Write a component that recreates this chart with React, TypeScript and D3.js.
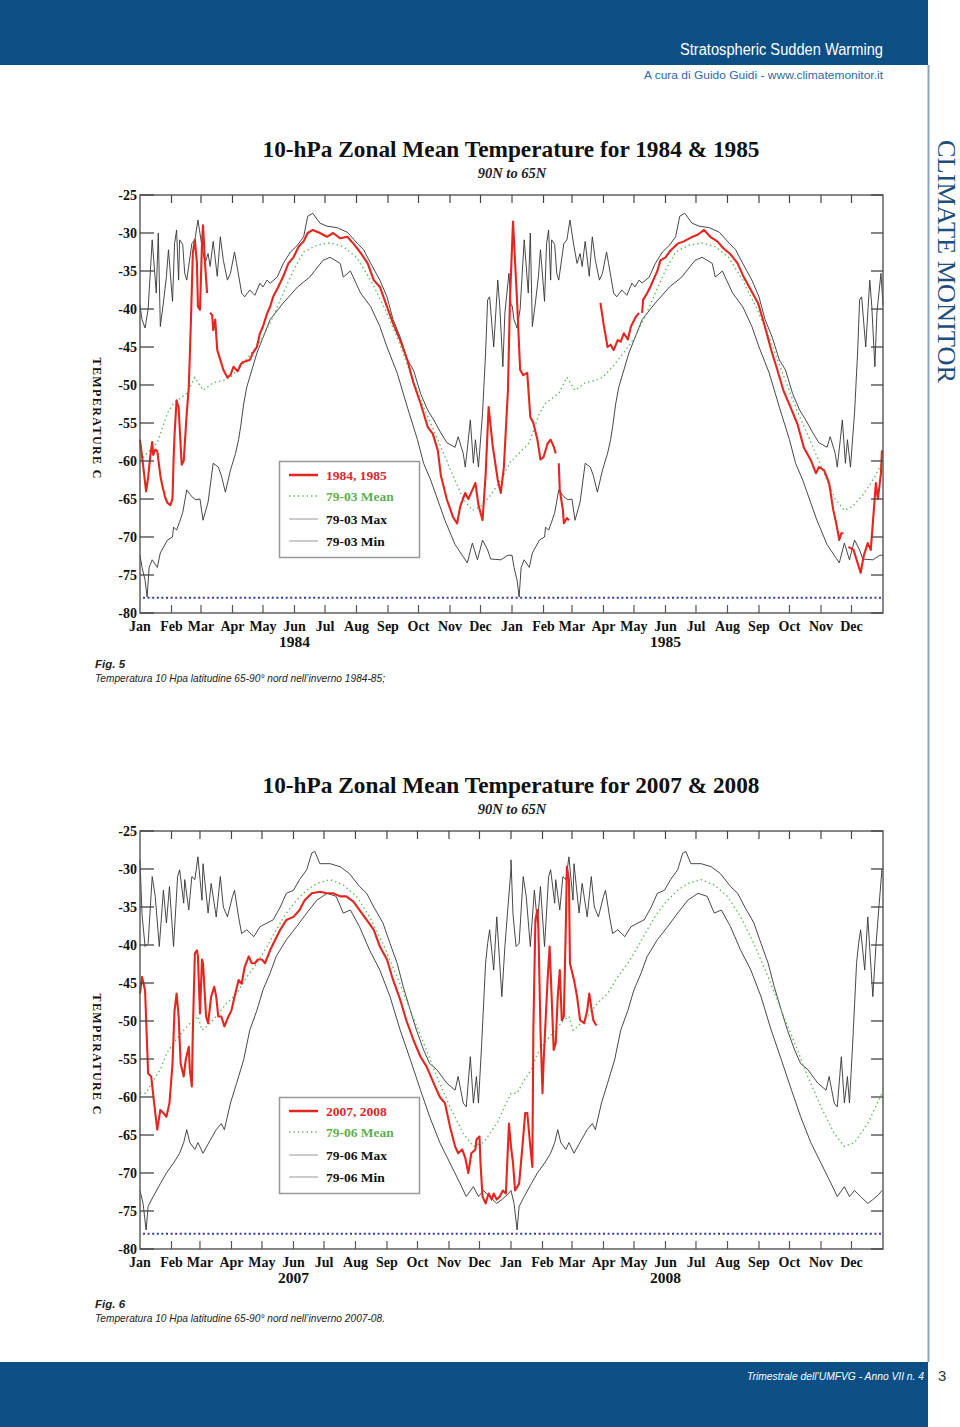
import React from 'react';
import * as d3 from 'd3';

type Pt = [number, number | null];

// ---------------- page texts ----------------
const HEADER_TITLE = 'Stratospheric Sudden Warming';
const HEADER_SUB = 'A cura di Guido Guidi - www.climatemonitor.it';
const SIDE_TEXT = 'CLIMATE MONITOR';
const FOOTER_TEXT = 'Trimestrale dell’UMFVG - Anno VII n. 4';
const PAGE_NUMBER = '3';

// ---------------- axes ----------------
const Y_TICKS = [-25, -30, -35, -40, -45, -50, -55, -60, -65, -70, -75, -80];
const Y_AXIS_TITLE = 'TEMPERATURE C';
const PSC_LEVEL = -78;
const SUBTITLE = '90N to 65N';

// ---------------- chart 1 (1984-85) ----------------
const CH1_TITLE = '10-hPa Zonal Mean Temperature for 1984 & 1985';
const CH1_YEARS = [1984, 1985];
const CH1_LEGEND = ['1984, 1985', '79-03 Mean', '79-03 Max', '79-03 Min'];
const CH1_CAPTION = ['Fig. 5', 'Temperatura 10 Hpa latitudine 65-90° nord nell’inverno 1984-85;'];

// climatology: [day of year, °C]
const CH1_MAX: Pt[] = [[0,-39.5],[2,-41.4],[5,-42.5],[8,-40],[12,-30.9],[16,-37.9],[18,-30],[20,-42.3],[23,-39.2],[26,-35.7],[28,-32.2],[32,-39],[34,-31.4],[36,-29.6],[38,-36.2],[39,-30.9],[42,-31.5],[44,-35.3],[46,-36.2],[51,-31.4],[54,-30.9],[57,-28.3],[61,-31.8],[64,-34],[67,-32.7],[69,-34.4],[72,-31.1],[76,-35.7],[79,-30.5],[82,-33.6],[86,-36.2],[89,-35.3],[93,-32.5],[95,-34],[100,-37.9],[103,-38.4],[108,-37.5],[113,-38.2],[118,-36.6],[121,-37.1],[125,-36.2],[128,-36.6],[135,-35.8],[141,-34],[148,-32.5],[155,-31.6],[161,-30.5],[165,-27.8],[170,-27.4],[177,-28.7],[184,-29.1],[194,-29.3],[204,-29.9],[214,-31.4],[220,-32.2],[227,-34],[236,-36.2],[243,-38.4],[249,-41.4],[256,-43.7],[263,-46.7],[269,-48],[276,-51.1],[283,-53.3],[289,-54.6],[296,-56.3],[302,-57.6],[310,-58.2],[313,-56.8],[318,-59],[320,-60.8],[323,-57.2],[325,-54.6],[328,-60.3],[330,-57.2],[333,-60.8],[337,-53.7],[340,-45.8],[342,-38.8],[344,-38.4],[348,-45],[352,-36.2],[354,-39.7],[357,-47.6],[359,-40.5],[363,-35.3],[365,-39.5]];
const CH1_MIN: Pt[] = [[0,-72.4],[2,-74],[5,-75.7],[7,-77.9],[9,-74],[12,-73],[17,-74],[20,-72.1],[27,-70.4],[32,-70],[33,-68.7],[36,-69.1],[39,-68],[42,-66.8],[46,-63.8],[51,-64.7],[55,-65.1],[59,-65],[62,-67.8],[67,-65.4],[72,-60.3],[77,-60.8],[80,-61.9],[84,-64.1],[89,-61.2],[94,-59],[97,-57.2],[99,-55.5],[102,-52.5],[105,-50.3],[115,-45.8],[128,-41.4],[141,-39.2],[155,-37.1],[167,-35.8],[180,-33.6],[187,-33.2],[197,-34],[200,-35.8],[207,-35],[217,-37.9],[227,-39.7],[236,-42.3],[243,-45],[253,-48.4],[263,-52.9],[273,-57.2],[279,-60.3],[286,-62.5],[300,-67.8],[310,-71],[318,-72.6],[322,-73.4],[327,-70.8],[332,-73],[337,-70.4],[342,-71.7],[345,-72.9],[355,-73],[362,-72.4],[365,-72.4]];
const CH1_MEAN: Pt[] = [[0,-60],[3,-59.5],[17,-57.6],[27,-53.7],[33,-52.4],[46,-51.1],[54,-49],[62,-50.7],[72,-49.7],[82,-49.4],[89,-49],[99,-47.6],[112,-45.4],[121,-43.7],[131,-41],[141,-37.9],[151,-34.9],[161,-32.5],[174,-31.6],[187,-31.3],[200,-31.8],[213,-33.2],[227,-36.2],[240,-39.7],[253,-43.7],[266,-48.4],[279,-52.9],[293,-57.2],[305,-61],[318,-65],[327,-66.5],[335,-66],[345,-64.5],[355,-62.5],[365,-60]];
// observed: [days since 1 Jan 1984, °C]; null = missing
const CH1_RED: Pt[] = [[0,-57.2],[3,-60.5],[6,-64],[8,-62.2],[10,-59.5],[12,-57.5],[13,-59.2],[15,-58.5],[17,-58.7],[20,-61.9],[22,-63.3],[25,-64.9],[27,-65.5],[30,-65.8],[32,-64.9],[33,-60],[34,-56.5],[36,-52],[38,-53],[41,-60.5],[43,-60],[46,-53.7],[48,-50.3],[50,-42],[52,-32.6],[54,-30.9],[56,-34],[57,-39.7],[59,-40.1],[61,-31.3],[62,-29],[64,-34],[66,-37.9],[67,null],[69,-40.5],[71,-40.8],[72,-42.8],[74,-41.4],[76,-45.4],[79,-46.7],[82,-48],[86,-49],[89,-48.7],[92,-47.6],[96,-48.2],[99,-47.3],[101,-47],[108,-46.7],[111,-45.8],[115,-45],[118,-43.2],[121,-42.3],[125,-40.6],[128,-39.7],[131,-38.4],[136,-37.1],[141,-35.7],[146,-34],[151,-33.2],[156,-31.8],[161,-31.1],[165,-30],[170,-29.6],[177,-30],[184,-30.5],[190,-30],[197,-30.7],[204,-30.5],[210,-31.4],[217,-32.6],[224,-34],[230,-36.2],[236,-37.1],[243,-39.7],[249,-41.9],[256,-44.1],[263,-46.7],[269,-49.7],[276,-52.4],[283,-55.5],[288,-56.4],[293,-58.6],[296,-61.9],[302,-65.1],[308,-67.4],[312,-68.2],[315,-66],[320,-64.2],[323,-65],[327,-63.8],[330,-62.9],[333,-65.8],[337,-67.8],[340,-61.9],[343,-52.9],[347,-58],[352,-62.5],[355,-64.2],[358,-60.8],[362,-50.7],[364,-38.8],[367,-28.5],[371,-39],[374,-48],[377,-48.7],[381,-48.4],[384,-54.2],[387,-55],[391,-57.2],[394,-59.8],[397,-59.5],[401,-57.7],[404,-57.2],[407,-58.1],[409,-59],[410,null],[412,-60.3],[413,-63.8],[416,-66.4],[417,-68.2],[420,-67.5],[422,-67.8],[423,null],[453,-39.2],[456,-41.9],[460,-45],[463,-44.7],[466,-45.4],[470,-44.1],[473,-44.3],[476,-43.2],[480,-44],[483,-42.3],[488,-41],[491,-40.5],[492,null],[494,-40.5],[495,-38.8],[499,-37.9],[502,-37.1],[505,-36.2],[509,-35],[512,-33.6],[517,-33.2],[522,-32.3],[529,-31.4],[535,-31.1],[542,-30.6],[549,-30.2],[555,-29.6],[561,-30.5],[568,-31.1],[574,-32],[581,-32.8],[588,-34],[594,-35.8],[601,-37.5],[608,-39.2],[614,-41.9],[621,-45.4],[627,-48],[633,-50.7],[640,-52.9],[647,-55.2],[653,-58.2],[660,-59.9],[665,-61.6],[668,-60.8],[673,-61.2],[678,-62.9],[682,-66.4],[685,-68.2],[688,-70.4],[690,-69.5],[692,-69.5],[694,null],[697,-71.3],[702,-71.7],[706,-73.4],[709,-74.7],[712,-72.5],[716,-70.8],[719,-71.7],[722,-66.4],[724,-62.9],[726,-65],[729,-61.6],[730,-58.6]];

// ---------------- chart 2 (2007-08) ----------------
const CH2_TITLE = '10-hPa Zonal Mean Temperature for 2007 & 2008';
const CH2_YEARS = [2007, 2008];
const CH2_LEGEND = ['2007, 2008', '79-06 Mean', '79-06 Max', '79-06 Min'];
const CH2_CAPTION = ['Fig. 6', 'Temperatura 10 Hpa latitudine 65-90° nord nell’inverno 2007-08.'];

const CH2_MAX: Pt[] = [[0,-28.8],[2,-36],[5,-40.2],[8,-39.8],[12,-31],[15,-33.6],[19,-40.2],[23,-32.8],[26,-37.1],[29,-32.3],[33,-40.2],[37,-31],[39,-30.1],[43,-34.5],[44,-31.4],[48,-35.4],[51,-31],[54,-31.4],[57,-28.4],[61,-34.1],[62,-29.3],[67,-35.8],[70,-31.9],[75,-36.3],[79,-31],[82,-35],[86,-36.3],[91,-33.6],[93,-32.8],[97,-36.3],[100,-38.5],[105,-38],[112,-38.9],[118,-37.6],[125,-37.1],[131,-36.7],[138,-35],[144,-33.2],[151,-32.8],[157,-31.4],[164,-30.1],[169,-27.9],[172,-27.7],[177,-29.3],[187,-29.3],[197,-29.7],[206,-30.6],[216,-32.3],[223,-33.2],[230,-35],[239,-37.1],[246,-39.8],[253,-42.4],[259,-45.5],[266,-48.6],[272,-51.2],[279,-53.8],[285,-55.6],[292,-56.4],[302,-58.2],[310,-59.1],[313,-57.3],[318,-60.8],[321,-61.3],[325,-54.7],[328,-60.8],[331,-57.3],[333,-60.8],[336,-53.4],[340,-42.4],[342,-39.8],[344,-38],[348,-43.3],[351,-36.3],[356,-46.8],[359,-40.2],[362,-35],[365,-30]];
const CH2_MIN: Pt[] = [[0,-72.3],[3,-74],[6,-77.5],[8,-74.4],[13,-73.1],[20,-71.4],[26,-70],[33,-68.7],[39,-67.4],[43,-66],[46,-64.3],[49,-66],[54,-66.9],[57,-66],[62,-67.4],[69,-65.7],[75,-64.3],[80,-63.5],[83,-64.3],[89,-60.8],[95,-58.2],[102,-55.1],[108,-51.2],[115,-48.6],[121,-45.9],[128,-43.7],[134,-41.5],[144,-39.3],[154,-37.6],[164,-35.8],[174,-34.1],[184,-33.2],[193,-33.6],[200,-35.8],[207,-35.4],[216,-37.6],[226,-40.7],[236,-43.3],[246,-46.8],[256,-51.2],[266,-55.1],[276,-59.1],[285,-62.6],[295,-66],[305,-68.7],[315,-71.4],[321,-73.1],[328,-71.8],[333,-73.1],[338,-72.3],[344,-73.1],[351,-74],[356,-73.5],[362,-72.8],[365,-72.3]];
const CH2_MEAN: Pt[] = [[0,-59.5],[6,-59.5],[13,-57.8],[20,-56.4],[26,-54.3],[33,-52.9],[43,-51.2],[52,-49.9],[57,-49.4],[61,-51.2],[66,-50.7],[75,-49.4],[85,-47.7],[95,-46.4],[105,-44.2],[115,-42.4],[125,-40.2],[134,-38],[144,-35.8],[154,-34.1],[164,-32.8],[174,-31.9],[187,-31.4],[200,-32.1],[213,-33.6],[226,-36.3],[239,-39.8],[253,-44.2],[266,-48.6],[279,-52.9],[292,-57.3],[305,-61.3],[318,-64.8],[328,-66.5],[338,-66],[351,-63.5],[365,-59.5]];
// observed: [days since 1 Jan 2007, °C]
const CH2_RED: Pt[] = [[0,-46.4],[2,-44.2],[5,-46],[8,-56.9],[11,-57.3],[15,-62.1],[17,-64.3],[20,-61.7],[23,-62.1],[26,-62.6],[29,-60.8],[32,-55.6],[34,-48.6],[36,-46.4],[38,-49.4],[40,-55.6],[43,-57.3],[45,-55.1],[48,-53.4],[49,-56.4],[51,-58.6],[52,-51.2],[54,-41.1],[56,-40.7],[57,-41.5],[59,-49],[61,-41.9],[62,-42.4],[65,-49.4],[67,-50.3],[70,-46.8],[73,-45.5],[75,-46.8],[77,-49.4],[80,-49.4],[83,-50.7],[87,-49.4],[90,-48.6],[93,-46.8],[97,-44.6],[100,-45.1],[103,-42.9],[107,-41.5],[110,-42.4],[113,-42.4],[116,-41.9],[120,-41.9],[123,-42.4],[128,-40.7],[133,-39.3],[138,-38],[144,-36.7],[151,-36.3],[157,-35.4],[162,-34.1],[169,-33.2],[177,-33],[184,-33.2],[190,-33.2],[197,-33.6],[203,-33.6],[210,-34.3],[216,-35.4],[223,-36.7],[230,-38],[236,-40.2],[243,-41.9],[249,-44.6],[256,-47.2],[262,-49.9],[269,-52.5],[276,-54.7],[282,-56],[289,-58.2],[295,-60],[300,-60.8],[305,-63.9],[310,-66.5],[313,-67.4],[317,-66.9],[320,-68],[323,-70],[326,-67.4],[330,-66.9],[331,-65.6],[334,-65.2],[335,-68.7],[337,-73.1],[340,-74],[343,-72.7],[346,-73.5],[348,-72.7],[351,-73.5],[354,-73.1],[357,-72.3],[360,-72.7],[363,-63.5],[365,-66.5],[367,-68.7],[369,-72.3],[373,-71.4],[376,-66.9],[379,-62.1],[381,-62.1],[384,-66.5],[386,-69.2],[387,-51.2],[389,-36.7],[391,-35.4],[392,-38],[394,-51.2],[396,-59.5],[397,-55.6],[401,-44.6],[403,-40.2],[405,-46.8],[407,-53.8],[409,-52.9],[411,-46.8],[413,-43.3],[415,-49.9],[417,-49.4],[419,-37.1],[420,-29.7],[422,-31.4],[423,-42.4],[427,-44.6],[430,-46.8],[433,-49.9],[437,-50.3],[440,-48.6],[442,-46.4],[444,-48.2],[446,-49.9],[449,-50.6]];

// ---------------- styles ----------------
const BLUE = '#0c4f84';
const SERIF = "'Liberation Serif', 'Times New Roman', 'DejaVu Serif', serif";
const NARROW = "'Liberation Sans Narrow', 'Liberation Sans', Arial, sans-serif";
const RED = '#e3261f';
const GREEN = '#5cb85c';
const DAY = 86400000;

interface ChartProps {
  top: number;
  years: number[];
  title: string;
  red: Pt[];
  max: Pt[];
  min: Pt[];
  mean: Pt[];
  legend: string[];
  caption: string[];
  captionY: number;
}

function Chart({ top, years, title, red, max, min, mean, legend, caption, captionY }: ChartProps) {
  const left = 140;
  const right = 883;
  const bottom = top + 418;
  const t0 = new Date(years[0], 0, 1);
  const t1 = new Date(years[0] + 2, 0, 1);
  const x = d3.scaleTime().domain([t0, t1]).range([left, right]);
  const y = d3.scaleLinear().domain([-80, -25]).range([bottom, top]);
  const xd = (yr: number, d: number) => x(new Date(new Date(yr, 0, 1).getTime() + d * DAY));
  const line = d3
    .line<[number, number | null]>()
    .defined((p) => p[1] != null)
    .x((p) => p[0])
    .y((p) => y(p[1] as number));
  const clim = (arr: Pt[]) =>
    line(years.flatMap((yr) => arr.map(([d, t]) => [xd(yr, d), t] as [number, number | null]))) || '';
  const redPath = line(red.map(([d, t]) => [xd(years[0], d), t] as [number, number | null])) || '';
  const months = d3.timeMonth.range(t0, t1);
  const fmt = d3.timeFormat('%b');
  const ly = top + 266;
  const legY = [top + 280, top + 301, top + 324, top + 346];

  return (
    <g>
      <text x={511} y={top - 38} textAnchor="middle" fontFamily={SERIF} fontWeight="bold" fontSize={23}
        textLength={497} lengthAdjust="spacingAndGlyphs" fill="#111">{title}</text>
      <text x={512} y={top - 17} textAnchor="middle" fontFamily={SERIF} fontWeight="bold" fontStyle="italic"
        fontSize={14.5} fill="#222">{SUBTITLE}</text>

      <line x1={143} x2={right - 2} y1={y(PSC_LEVEL)} y2={y(PSC_LEVEL)} stroke="#3040a8" strokeWidth={2}
        strokeDasharray="2 2.6" />
      <path d={clim(max)} fill="none" stroke="#333" strokeWidth={0.9} strokeLinejoin="round" />
      <path d={clim(min)} fill="none" stroke="#333" strokeWidth={0.9} strokeLinejoin="round" />
      <path d={clim(mean)} fill="none" stroke={GREEN} strokeWidth={1.4} strokeDasharray="1.4 3" />
      <path d={redPath} fill="none" stroke={RED} strokeWidth={2.1} strokeLinejoin="round" />

      <rect x={left} y={top} width={right - left} height={bottom - top} fill="none" stroke="#555" strokeWidth={1.4} />
      {months.slice(1).map((m, i) => (
        <g key={'mt' + i}>
          <line x1={x(m)} x2={x(m)} y1={top} y2={top + 8} stroke="#444" strokeWidth={1.2} />
          <line x1={x(m)} x2={x(m)} y1={bottom} y2={bottom - 8} stroke="#555" strokeWidth={1.2} />
        </g>
      ))}
      {Y_TICKS.map((t) => (
        <g key={'yt' + t}>
          <line x1={left} x2={left + 14} y1={y(t)} y2={y(t)} stroke="#444" strokeWidth={1.3} />
          <line x1={right} x2={right - 12} y1={y(t)} y2={y(t)} stroke="#444" strokeWidth={1.3} />
          <text x={137} y={y(t) + 4.5} textAnchor="end" fontFamily={SERIF} fontWeight="bold" fontSize={14}
            fill="#111">{t}</text>
        </g>
      ))}
      {months.map((m, i) => (
        <text key={'ml' + i} x={x(m)} y={bottom + 18} textAnchor="middle" fontFamily={SERIF} fontWeight="bold"
          fontSize={14} fill="#111">{fmt(m)}</text>
      ))}
      {years.map((yr) => (
        <text key={'yl' + yr} x={x(new Date(yr, 5, 1))} y={bottom + 34} textAnchor="middle" fontFamily={SERIF}
          fontWeight="bold" fontSize={15.5} fill="#111">{yr}</text>
      ))}
      <text transform={`translate(93, ${top + 223}) rotate(90)`} textAnchor="middle" fontFamily={SERIF}
        fontWeight="bold" fontSize={12} textLength={121} lengthAdjust="spacing" fill="#111">{Y_AXIS_TITLE}</text>

      <rect x={279.5} y={ly + 0.5} width={140} height={96} fill="#fff" stroke="#999" strokeWidth={1.5} />
      <line x1={289} x2={318} y1={legY[0]} y2={legY[0]} stroke={RED} strokeWidth={2.5} />
      <line x1={289} x2={318} y1={legY[1]} y2={legY[1]} stroke={GREEN} strokeWidth={1.4} strokeDasharray="1.4 3" />
      <line x1={289} x2={318} y1={legY[2]} y2={legY[2]} stroke="#999" strokeWidth={1} />
      <line x1={289} x2={318} y1={legY[3]} y2={legY[3]} stroke="#999" strokeWidth={1} />
      {legend.map((s, i) => (
        <text key={'lg' + i} x={326} y={legY[i] + 5} fontFamily={SERIF} fontWeight="bold" fontSize={13.5}
          fill={i === 0 ? '#d8292a' : i === 1 ? '#5cb04c' : '#111'}>{s}</text>
      ))}

      <text x={95} y={captionY} fontFamily={NARROW} fontWeight="bold" fontStyle="italic" fontSize={11.5}
        fill="#222">{caption[0]}</text>
      <text x={95} y={captionY + 14} fontFamily={NARROW} fontStyle="italic" fontSize={11.5} fill="#222"
        textLength={290} lengthAdjust="spacingAndGlyphs">{caption[1]}</text>
    </g>
  );
}

export default function App() {
  return (
    <svg width={960} height={1427} viewBox="0 0 960 1427"
      style={{ position: 'absolute', left: 0, top: 0, display: 'block', background: '#fff' }}>
      <rect x={0} y={0} width={960} height={1427} fill="#fff" />
      <rect x={0} y={0} width={928} height={65} fill={BLUE} />
      <text x={883} y={55} textAnchor="end" fontFamily={NARROW} fontSize={16} fill="#fff" textLength={203}
        lengthAdjust="spacingAndGlyphs">{HEADER_TITLE}</text>
      <text x={883} y={79} textAnchor="end" fontFamily={NARROW} fontSize={11.5} fill="#2f6aa6" textLength={239}
        lengthAdjust="spacingAndGlyphs">{HEADER_SUB}</text>
      <line x1={928.5} x2={928.5} y1={65} y2={1362} stroke="#8ea6bd" strokeWidth={2} />
      <text transform="translate(938, 140) rotate(90)" fontFamily={SERIF} fontSize={26} fill="#1f4d7d"
        textLength={243} lengthAdjust="spacingAndGlyphs">{SIDE_TEXT}</text>

      <Chart top={195} years={CH1_YEARS} title={CH1_TITLE} red={CH1_RED} max={CH1_MAX} min={CH1_MIN}
        mean={CH1_MEAN} legend={CH1_LEGEND} caption={CH1_CAPTION} captionY={668} />
      <Chart top={831} years={CH2_YEARS} title={CH2_TITLE} red={CH2_RED} max={CH2_MAX} min={CH2_MIN}
        mean={CH2_MEAN} legend={CH2_LEGEND} caption={CH2_CAPTION} captionY={1308} />

      <rect x={0} y={1362} width={928} height={65} fill={BLUE} />
      <text x={924} y={1380} textAnchor="end" fontFamily={NARROW} fontStyle="italic" fontSize={10.2} fill="#fff"
        textLength={177} lengthAdjust="spacingAndGlyphs">{FOOTER_TEXT}</text>
      <text x={938} y={1381} fontFamily={NARROW} fontSize={15} fill="#333">{PAGE_NUMBER}</text>
    </svg>
  );
}
